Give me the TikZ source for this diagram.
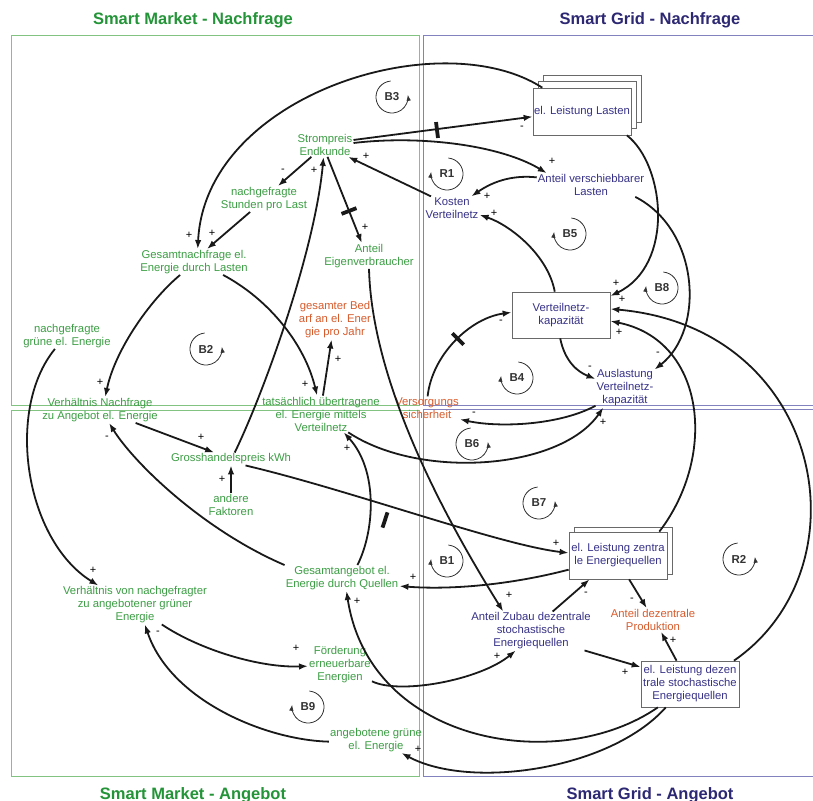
\documentclass[tikz,border=0pt]{standalone}
\usepackage{fontspec}
\setmainfont{Liberation Sans}
\usetikzlibrary{arrows.meta}
\definecolor{mgreen}{RGB}{60,158,68}
\definecolor{mblue}{RGB}{55,50,135}
\definecolor{morange}{RGB}{215,92,45}
\definecolor{tgreen}{RGB}{35,148,55}
\definecolor{tblue}{RGB}{45,40,115}
\definecolor{fgreen}{RGB}{130,195,130}
\definecolor{fblue}{RGB}{130,130,190}
\definecolor{boxgray}{RGB}{105,105,105}
\newcommand{\nodefont}{\fontsize{11.3}{13}\selectfont}
\newcommand{\signfont}{\fontsize{11}{11}\selectfont}
\tikzset{
  gtxt/.style={text=mgreen, align=center, font=\nodefont, inner sep=1pt},
  btxt/.style={text=mblue, align=center, font=\nodefont, inner sep=1pt},
  otxt/.style={text=morange, align=center, font=\nodefont, inner sep=1pt},
  boxnode/.style={draw=boxgray, fill=white, line width=0.7pt, minimum width=98pt, minimum height=47pt, inner sep=0pt, align=center, text=mblue, font=\nodefont},
  boxback/.style={draw=boxgray, fill=white, line width=0.7pt},
  conn/.style={line width=1.8pt, draw=black!90, -{Latex[length=9pt,width=6.5pt]}},
  sgn/.style={font=\signfont, inner sep=0pt, text=black},
  delaybar/.style={line width=3.8pt, draw=black!90},
  loopline/.style={line width=0.8pt, draw=black!80, -{Latex[length=6pt,width=4.5pt]}},
  looplbl/.style={font=\bfseries\fontsize{11.5}{12}\selectfont, text=black!80, inner sep=1pt},
  gframe/.style={draw=fgreen, line width=0.8pt},
  bframe/.style={draw=fblue, line width=0.8pt},
  gtitle/.style={text=tgreen, font=\bfseries\fontsize{16.5}{18}\selectfont, inner sep=0pt},
  btitle/.style={text=tblue, font=\bfseries\fontsize{16.5}{18}\selectfont, inner sep=0pt}
}
\newcommand{\loopR}[3]{\node[looplbl] (#1) at (#2) {#3};
  \draw[loopline] (#2) ++(95:16pt) arc[start angle=95, end angle=368, radius=16pt];}
\newcommand{\loopL}[3]{\node[looplbl] (#1) at (#2) {#3};
  \draw[loopline] (#2) ++(85:16pt) arc[start angle=85, end angle=-188, radius=16pt];}
\begin{document}
\begin{tikzpicture}[x=1pt,y=-1pt]
\useasboundingbox (0,0) rectangle (813,800);
\fill[white] (0,0) rectangle (813,800);
% frames
\draw[gframe] (11,35) rectangle (419,405);
\draw[gframe] (11,410) rectangle (419,776);
\draw[bframe] (813,35) -- (423,35) -- (423,405) -- (813,405);
\draw[bframe] (813,409) -- (423,409) -- (423,776) -- (813,776);
% titles
\node[gtitle, anchor=base] (t1) at (193,25) {Smart Market - Nachfrage};
\node[btitle, anchor=base] (t2) at (650,25) {Smart Grid - Nachfrage};
\node[gtitle, anchor=base] (t3) at (193,799) {Smart Market - Angebot};
\node[btitle, anchor=base] (t4) at (650,799) {Smart Grid - Angebot};
% green nodes
\node[gtxt] (strom) at (325,145) {Strompreis\\Endkunde};
\node[gtxt] (stunden) at (264,199) {nachgefragte\\Stunden pro Last};
\node[gtxt] (gesnach) at (194,262) {Gesamtnachfrage el.\\Energie durch Lasten};
\node[gtxt] (eigen) at (369,256) {Anteil\\Eigenverbraucher};
\node[gtxt] (gruennach) at (67,336) {nachgefragte\\grüne el. Energie};
\node[otxt] (bedarf) at (335,320) {gesamter Bed\\arf an el. Ener\\gie pro Jahr};
\node[gtxt] (verhNA) at (100,410) {Verhältnis Nachfrage\\zu Angebot el. Energie};
\node[gtxt] (tats) at (321,414) {tatsächlich übertragene\\el. Energie mittels\\Verteilnetz};
\node[otxt] (versorg) at (427,408) {Versorgungs\\sicherheit};
\node[gtxt] (gross) at (231,459) {Grosshandelspreis kWh};
\node[gtxt] (andere) at (231,505) {andere\\Faktoren};
\node[gtxt] (verhGruen) at (135,605) {Verhältnis von nachgefragter\\zu angebotener grüner\\Energie};
\node[gtxt] (gesang) at (342,578) {Gesamtangebot el.\\Energie durch Quellen};
\node[gtxt] (foerd) at (340,665) {Förderung\\erneuerbare\\Energien};
\node[gtxt] (angGruen) at (376,740) {angebotene grüne\\el. Energie};
% blue nodes
\node[btxt] (verschieb) at (591,185) {Anteil verschiebbarer\\Lasten};
\node[btxt] (kosten) at (452,208) {Kosten\\Verteilnetz};
\node[btxt] (ausl) at (625,388) {Auslastung\\Verteilnetz-\\kapazität};
\node[btxt] (zubau) at (531,631) {Anteil Zubau dezentrale\\stochastische\\Energiequellen};
\node[otxt] (antdez) at (653,620) {Anteil dezentrale\\Produktion};
% boxes
\draw[boxback] (543,75) rectangle (641,122);
\draw[boxback] (538,81.5) rectangle (636,128.5);
\node[boxnode] (lasten) at (582,111.5) {el. Leistung Lasten};
\draw[boxback] (574,527) rectangle (672,574);
\node[boxnode] (zentral) at (618,555.5) {el. Leistung zentra\\le Energiequellen};
\node[boxnode, minimum height=46pt] (dezentral) at (690,684) {el. Leistung dezen\\trale stochastische\\Energiequellen};
\node[boxnode, minimum height=46pt] (kap) at (561,315) {Verteilnetz-\\kapazität};
% loops
\loopR{lB3}{392,97}{B3}
\loopL{lR1}{447,174}{R1}
\loopL{lB5}{570,234}{B5}
\loopL{lB8}{662,288}{B8}
\loopL{lB4}{517,378}{B4}
\loopR{lB6}{472,444}{B6}
\loopR{lB7}{539,503}{B7}
\loopL{lB1}{447,561}{B1}
\loopR{lB2}{206,349}{B2}
\loopL{lB9}{308,707}{B9}
\loopR{lR2}{739,559}{R2}
% connectors
\draw[conn] (strom.10) -- (lasten.186);
\draw[conn] (lasten.149) .. controls (440,22) and (205,95) .. (gesnach.74);
\draw[conn] (strom.4) .. controls (420,135) and (500,145) .. (verschieb.165);
\draw[conn] (verschieb.172) .. controls (515,175) and (495,180) .. (kosten.31);
\draw[conn] (kosten.151) -- (strom.333);
\draw[conn] (kap.105) .. controls (548,255) and (510,225) .. (kosten.346);
\draw[conn] (lasten.332) .. controls (665,165) and (675,265) .. (kap.21);
\draw[conn] (verschieb.345) .. controls (700,230) and (705,330) .. (ausl.32);
\draw[conn] (kap.268) .. controls (565,362) and (578,372) .. (ausl.163);
\draw[conn] (ausl.211) .. controls (560,425) and (500,428) .. (versorg.341);
\draw[conn] (versorg.87) .. controls (432,355) and (470,318) .. (kap.177);
\draw[conn] (tats.326) .. controls (420,480) and (560,470) .. (ausl.222);
\draw[conn] (gesnach.336) .. controls (270,300) and (305,345) .. (tats.102);
\draw[conn] (tats.84) -- (bedarf.260);
\draw[conn] (gesnach.223) .. controls (150,300) and (115,350) .. (verhNA.68);
\draw[conn] (verhNA.340) -- (gross.159);
\draw[conn] (andere.north) -- (gross.south);
\draw[conn] (gross.60) .. controls (265,390) and (315,250) .. (strom.263);
\draw[conn] (strom.221) -- (stunden.43);
\draw[conn] (stunden.223) -- (gesnach.45);
\draw[conn] (strom.282) -- (eigen.119);
\draw[conn] (eigen.south) .. controls (372,380) and (440,510) .. (zubau.145);
\draw[conn] (gross.336) .. controls (350,490) and (500,545) .. (zentral.177);
\draw[conn] (zentral.196) .. controls (510,585) and (450,590) .. (gesang.352);
\draw[conn] (gesang.north west) .. controls (203,530) and (134,463) .. (verhNA.305);
\draw[conn] (gesang.40) .. controls (375,530) and (378,470) .. (tats.321);
\draw[conn] (gruennach.227) .. controls (5,410) and (25,540) .. (verhGruen.152);
\draw[conn] (verhGruen.324) .. controls (200,650) and (260,668) .. (foerd.182);
\draw[conn] (angGruen.182) .. controls (265,740) and (170,700) .. (verhGruen.297);
\draw[conn] (foerd.333) .. controls (400,695) and (480,680) .. (zubau.232);
\draw[conn] (zubau.42) -- (zentral.220);
\draw[conn] (zentral.295) -- (antdez.118);
\draw[conn] (zubau.340) -- (dezentral.161);
\draw[conn] (dezentral.120) -- (antdez.304);
\draw[conn] (dezentral.28) .. controls (868,568) and (825,328) .. (kap.7);
\draw[conn] (zentral.30) .. controls (718,455) and (705,340) .. (kap.353);
\draw[conn] (dezentral.216) .. controls (560,775) and (370,745) .. (gesang.289);
\draw[conn] (dezentral.224) .. controls (610,770) and (470,790) .. (angGruen.333);
% delay marks
\draw[delaybar] (437,130) ++(97:8pt) -- ++(277:16pt);
\draw[delaybar] (349,211) ++(21:8pt) -- ++(201:16pt);
\draw[delaybar] (458,339) ++(135:8pt) -- ++(315:16pt);
\draw[delaybar] (385,520) ++(72:8pt) -- ++(252:16pt);
% polarity signs
\node[sgn] (s1) at (522,128) {-};
\node[sgn] (s2) at (189,235) {+};
\node[sgn] (s3) at (552,161) {+};
\node[sgn] (s4) at (487,196) {+};
\node[sgn] (s5) at (366,156) {+};
\node[sgn] (s6) at (494,213) {+};
\node[sgn] (s7) at (616,283) {+};
\node[sgn] (s8) at (658,354) {-};
\node[sgn] (s9) at (590,368) {-};
\node[sgn] (s10) at (474,414) {-};
\node[sgn] (s11) at (501,322) {-};
\node[sgn] (s12) at (603,422) {+};
\node[sgn] (s13) at (305,384) {+};
\node[sgn] (s14) at (338,359) {+};
\node[sgn] (s15) at (100,382) {+};
\node[sgn] (s16) at (201,437) {+};
\node[sgn] (s17) at (222,479) {+};
\node[sgn] (s18) at (314,170) {+};
\node[sgn] (s19) at (283,171) {-};
\node[sgn] (s20) at (212,233) {+};
\node[sgn] (s21) at (365,227) {+};
\node[sgn] (s22) at (509,595) {+};
\node[sgn] (s23) at (556,543) {+};
\node[sgn] (s24) at (413,577) {+};
\node[sgn] (s25) at (107,438) {-};
\node[sgn] (s26) at (347,448) {+};
\node[sgn] (s27) at (93,570) {+};
\node[sgn] (s28) at (296,648) {+};
\node[sgn] (s29) at (158,633) {-};
\node[sgn] (s30) at (497,656) {+};
\node[sgn] (s31) at (586,594) {-};
\node[sgn] (s32) at (632,600) {-};
\node[sgn] (s33) at (625,672) {+};
\node[sgn] (s34) at (673,640) {+};
\node[sgn] (s35) at (622,299) {+};
\node[sgn] (s36) at (619,332) {+};
\node[sgn] (s37) at (357,601) {+};
\node[sgn] (s38) at (418,749) {+};
\end{tikzpicture}
\end{document}
